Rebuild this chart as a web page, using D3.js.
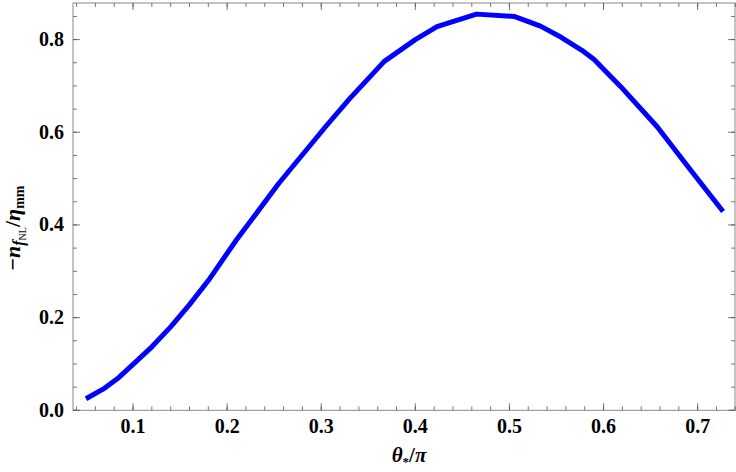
<!DOCTYPE html>
<html><head><meta charset="utf-8">
<script src="https://cdn.jsdelivr.net/npm/d3@7"></script>
<style>body{margin:0;background:#fff}svg{display:block}</style>
</head><body>
<script>
const theta = [0.05,0.07,0.085,0.10,0.12,0.14,0.16,0.18,0.21,0.255,0.305,0.33,0.367,0.40,0.423,0.465,0.505,0.533,0.555,0.577,0.59,0.618,0.657,0.69,0.727];
const ratio = [0.025,0.048,0.071,0.099,0.137,0.18,0.228,0.28,0.368,0.49,0.613,0.672,0.753,0.80,0.828,0.855,0.850,0.829,0.805,0.777,0.757,0.699,0.612,0.525,0.429];
const xTicks = [0.1,0.2,0.3,0.4,0.5,0.6,0.7];
const yTicks = [0.0,0.2,0.4,0.6,0.8];
const xMinor = d3.range(0.04,0.741,0.02);
const yMinor = d3.range(0,0.87,0.05);

const W=736,H=472;
const svg=d3.select("body").append("svg").attr("width",W).attr("height",H);
const x=d3.scaleLinear().domain([0.0362,0.7397]).range([73,735]);
const y=d3.scaleLinear().domain([0,0.879]).range([410.3,3]);
const L=73,R=735,T=3,B=410.3;
const frameCol="#8a8a8a", tickCol="#555";
const font="'Times New Roman','Liberation Serif',serif";

svg.append("rect").attr("x",L).attr("y",T).attr("width",R-L).attr("height",B-T)
  .attr("fill","none").attr("stroke",frameCol).attr("stroke-width",1);

const g=svg.append("g");
function tk(x1,y1,x2,y2){g.append("line").attr("x1",x1).attr("y1",y1).attr("x2",x2).attr("y2",y2).attr("stroke",tickCol).attr("stroke-width",0.8);}
xMinor.forEach(v=>{const px=x(v);tk(px,B,px,B-4);tk(px,T,px,T+4);});
xTicks.forEach(v=>{const px=x(v);tk(px,B,px,B-7);tk(px,T,px,T+7);});
yMinor.forEach(v=>{const py=y(v);tk(L,py,L+4,py);tk(R,py,R-4,py);});
yTicks.forEach(v=>{const py=y(v);tk(L,py,L+7,py);tk(R,py,R-7,py);});

svg.selectAll(".xl").data(xTicks).enter().append("text")
  .attr("x",d=>x(d)).attr("y",433).attr("text-anchor","middle")
  .attr("font-family",font).attr("font-weight","bold").attr("font-size",20)
  .text(d=>d3.format(".1f")(d));
svg.selectAll(".yl").data(yTicks).enter().append("text")
  .attr("x",64).attr("y",d=>y(d)+6.5).attr("text-anchor","end")
  .attr("font-family",font).attr("font-weight","bold").attr("font-size",20)
  .text(d=>d3.format(".1f")(d));

const data=theta.map((t,i)=>[t,ratio[i]]);
svg.append("path").datum(data)
  .attr("d",d3.line().x(d=>x(d[0])).y(d=>y(d[1])))
  .attr("fill","none").attr("stroke","#0000ff").attr("stroke-width",5).attr("stroke-linejoin","round");

const xt=svg.append("text").attr("x",409).attr("y",462).attr("text-anchor","middle")
  .attr("font-family",font).attr("font-weight","bold").attr("font-size",21);
xt.append("tspan").attr("font-style","italic").text("θ");
xt.append("tspan").attr("font-size",13).attr("dy",4).text("*");
xt.append("tspan").attr("dy",-4).text("/");
xt.append("tspan").attr("font-style","italic").text("π");

const yt=svg.append("text").attr("transform","translate(20,228) rotate(-90)")
  .attr("text-anchor","middle").attr("font-family",font).attr("font-weight","bold").attr("font-size",22);
yt.append("tspan").text("−");
yt.append("tspan").attr("font-style","italic").text("n");
yt.append("tspan").attr("font-style","italic").attr("font-size",16).attr("dy",4).text("f");
yt.append("tspan").attr("font-size",10).attr("dy",2).attr("font-weight","normal").text("NL");
yt.append("tspan").attr("dy",-6).text("/");
yt.append("tspan").attr("font-style","italic").text("η");
yt.append("tspan").attr("font-size",14).attr("dy",4).text("mm");
</script>
</body></html>
